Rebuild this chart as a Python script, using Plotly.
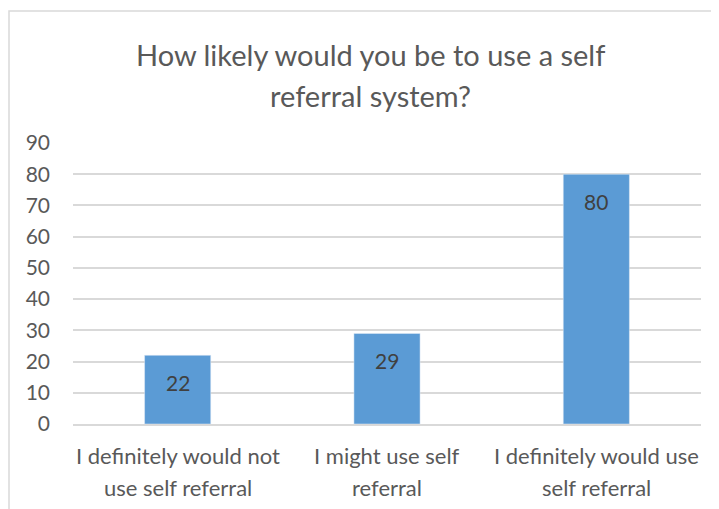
import plotly.graph_objects as go

categories = ["I definitely would not use self referral", "I might use self referral", "I definitely would use self referral"]
tick_lines = [["I definitely would not", "use self referral"], ["I might use self", "referral"], ["I definitely would use", "self referral"]]
values = [22, 29, 80]
title_lines = ["How likely would you be to use a self", "referral system?"]
y_ticks = [0, 10, 20, 30, 40, 50, 60, 70, 80, 90]

FONT = "Lato"
GREY = "#595959"

# plot area in screen pixels: x 73..701, y 143..424
def px_x(x):
    return (x - 73) / 628

def px_y(y):
    return (424 - y) / 281

fig = go.Figure(go.Bar(x=categories, y=values, marker_color="#5B9BD5", width=0.316, hoverinfo="skip"))

ann = []
for c, v in zip(categories, values):
    ann.append(dict(x=c, y=v, xref="x", yref="y", text=str(v), showarrow=False, yshift=-27,
                    font=dict(family=FONT, size=21, color="#404040")))
for c, lines in zip(categories, tick_lines):
    for i, t in enumerate(lines):
        ann.append(dict(x=c, y=0, xref="x", yref="paper", text=t, showarrow=False,
                        yanchor="middle", yshift=-31 - 32 * i,
                        font=dict(family=FONT, size=22, color=GREY)))
for i, t in enumerate(title_lines):
    ann.append(dict(x=px_x(370), y=px_y(55 + 40 * i), xref="paper", yref="paper", text=t,
                    showarrow=False, xanchor="center", yanchor="middle",
                    font=dict(family=FONT, size=29, color=GREY)))

fig.update_layout(
    width=719, height=509,
    margin=dict(l=65, r=26, t=135, b=93),
    paper_bgcolor="white", plot_bgcolor="white",
    showlegend=False,
    annotations=ann,
    xaxis=dict(showticklabels=False, showline=True, linecolor="#d9d9d9", linewidth=1.5, showgrid=False, ticks=""),
    yaxis=dict(range=[0, 90], tickvals=y_ticks, showgrid=True, gridcolor="#d9d9d9", gridwidth=1.5,
               zeroline=False, showline=False, ticks="", ticklabelstandoff=22,
               tickfont=dict(family=FONT, size=21, color=GREY)),
    shapes=[dict(type="rect", xref="paper", yref="paper", x0=px_x(9), x1=1.2,
                 y0=-1, y1=px_y(11), line=dict(color="#d9d9d9", width=1.5), layer="below")],
)

fig.write_html("out.html")
